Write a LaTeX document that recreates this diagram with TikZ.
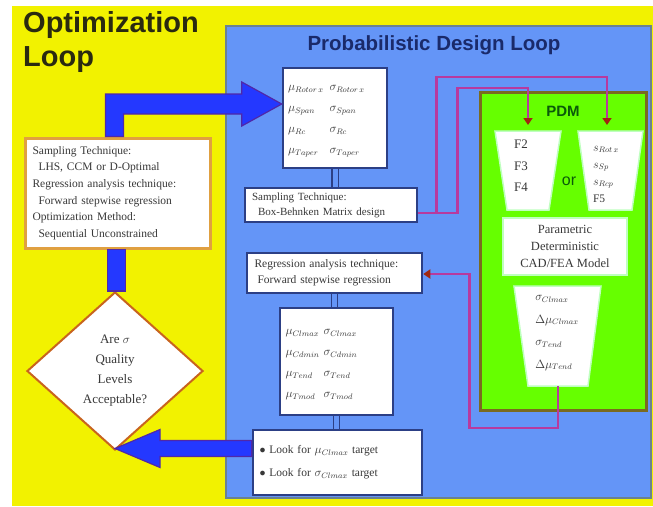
\documentclass[tikz,border=0pt]{standalone}
\usepackage{fontspec}
\setmainfont{Liberation Serif}
\newfontfamily\titlefont{Liberation Sans}
\usetikzlibrary{shapes.geometric,arrows.meta,calc}
\definecolor{ybg}{HTML}{F2F200}
\definecolor{panel}{HTML}{6495F7}
\definecolor{panelb}{HTML}{6A8290}
\definecolor{navy}{HTML}{2C3F85}
\definecolor{pdmg}{HTML}{66FF00}
\definecolor{pdmb}{HTML}{7A6A20}
\definecolor{bigblue}{HTML}{2438FF}
\definecolor{bigblueb}{HTML}{5028A8}
\definecolor{mag}{HTML}{B83A9E}
\definecolor{magtip}{HTML}{A02810}
\definecolor{orb}{HTML}{E0A040}
\definecolor{dia}{HTML}{C8641E}
\definecolor{txt}{HTML}{383838}
\definecolor{ttl}{HTML}{2A2A10}
\definecolor{ttlb}{HTML}{1A2A6A}
\definecolor{pdmt}{HTML}{0A5A0A}
\begin{document}
\begin{tikzpicture}[x=1pt,y=-1pt,
  bluebox/.style={draw=navy, line width=2.5pt, fill=white, inner sep=4pt, text=txt, align=left},
  whitebox/.style={draw=green!25, line width=1.5pt, fill=white, inner sep=3pt, text=txt, align=center},
  trap/.style={draw=green!25, line width=1.5pt, fill=white},
  dbl/.style={draw=navy, line width=1.2pt, double=panel, double distance=5pt},
  magline/.style={draw=mag, line width=2.8pt},
  magarrow/.style={magline, -{Triangle[length=7pt,width=9pt,color=magtip]}},
  bigarrow/.style={fill=bigblue, draw=bigblueb, line width=1.2pt, line join=miter},
]
\useasboundingbox (0,0) rectangle (653,506);
\fill[white] (0,0) rectangle (653,506);
\fill[ybg] (12,6) rectangle (653,506);
\draw[panelb, line width=2pt, fill=panel] (226,26) rectangle (651,498);

% titles
\node[font=\titlefont\bfseries\fontsize{29}{34}\selectfont, text=ttl, align=left, anchor=north west, inner sep=0pt] (otitle) at (23,11) {Optimization\\Loop};
\node[font=\titlefont\bfseries\fontsize{20.5}{22}\selectfont, text=ttlb, inner sep=0pt] (ptitle) at (434,45) {Probabilistic Design Loop};

% PDM green box
\draw[pdmb, line width=3pt, fill=pdmg] (480,92) rectangle (646,410);
\node[font=\titlefont\bfseries\fontsize{15}{17}\selectfont, text=pdmt] (pdm) at (563,111) {PDM};
\node[font=\titlefont\fontsize{16}{18}\selectfont, text=pdmt] (or) at (569,181) {or};

% trapezoids
\draw[trap] (495,131) -- (561,131) -- (549,210) -- (507,210) -- cycle;
\draw[trap] (578,131) -- (643,131) -- (632,210) -- (589,210) -- cycle;
\draw[trap] (514,286) -- (601,286) -- (588,386) -- (528,386) -- cycle;
\coordinate (ltop) at (528,131);
\coordinate (rtop) at (607,131);
\coordinate (bbot) at (558,386);
\node[text=txt, font=\fontsize{13}{21.5}\selectfont, align=left] (ltext) at (521,166) {F2\\F3\\F4};
\node[text=txt, font=\fontsize{11.5}{17}\selectfont, align=left] (rtext) at (606,174) {$s_{Rot\,x}$\\$s_{Sp}$\\$s_{Rcp}$\\F5};
\node[text=txt, font=\fontsize{11.5}{22.5}\selectfont, align=left] (btext) at (557,333) {$\sigma_{Clmax}$\\$\Delta\mu_{Clmax}$\\$\sigma_{Tend}$\\$\Delta\mu_{Tend}$};
\node[whitebox, minimum width=124pt, minimum height=57pt, font=\fontsize{12.5}{17}\selectfont] (param) at (565,246.5) {Parametric\\Deterministic\\CAD/FEA Model};

% blue boxes
\node[bluebox, minimum width=104pt, minimum height=100pt, text width=94pt, font=\fontsize{12}{21}\selectfont] (pbox) at (335,118)
  {\begin{tabular}{@{}l@{\hspace{6pt}}l@{}}$\mu_{Rotor\,x}$&$\sigma_{Rotor\,x}$\\$\mu_{Span}$&$\sigma_{Span}$\\$\mu_{Rc}$&$\sigma_{Rc}$\\$\mu_{Taper}$&$\sigma_{Taper}$\end{tabular}};
\node[bluebox, minimum width=172pt, minimum height=34pt, text width=158pt, font=\fontsize{11}{15}\selectfont] (sbox) at (331,205)
  {Sampling Technique:\\\hspace*{6pt}Box-Behnken Matrix design};
\node[bluebox, minimum width=175pt, minimum height=40pt, text width=160pt, font=\fontsize{11.5}{16}\selectfont] (rbox) at (334.5,273)
  {Regression analysis technique:\\\hspace*{3pt}Forward stepwise regression};
\node[bluebox, minimum width=113pt, minimum height=107pt, text width=102pt, font=\fontsize{12}{21}\selectfont] (mbox) at (336.5,361.5)
  {\begin{tabular}{@{}l@{\hspace{4pt}}l@{}}$\mu_{Clmax}$&$\sigma_{Clmax}$\\$\mu_{Cdmin}$&$\sigma_{Cdmin}$\\$\mu_{Tend}$&$\sigma_{Tend}$\\$\mu_{Tmod}$&$\sigma_{Tmod}$\end{tabular}};
\node[bluebox, minimum width=169pt, minimum height=65pt, text width=156pt, font=\fontsize{11.5}{23}\selectfont] (bbox) at (337.5,462.5)
  {$\bullet$ Look for $\mu_{Clmax}$ target\\$\bullet$ Look for $\sigma_{Clmax}$ target};

% double connectors
\draw[dbl] (pbox.south) -- (pbox.south |- sbox.north);
\draw[dbl] (rbox.south) -- (rbox.south |- mbox.north);
\draw[dbl] (mbox.south) -- (mbox.south |- bbox.north);

% left side
\node[draw=orb, line width=3pt, fill=white, minimum width=185pt, minimum height=110pt, text width=170pt, text=txt, align=left, font=\fontsize{11.5}{16.7}\selectfont, inner sep=6pt] (lbox) at (117.5,193)
  {Sampling Technique:\\\hspace*{6pt}LHS, CCM or D-Optimal\\Regression analysis technique:\\\hspace*{6pt}Forward stepwise regression\\Optimization Method:\\\hspace*{6pt}Sequential Unconstrained};
\node[diamond, draw=dia, line width=2pt, fill=white, minimum width=176pt, minimum height=158pt, inner sep=0pt, text=txt, align=center, font=\fontsize{13}{20}\selectfont] (dia) at (115,371)
  {Are $\sigma$\\Quality\\Levels\\Acceptable?};

% small connector diamond -> left box
\path let \p1=(lbox.south), \p2=(dia.north) in
  [bigarrow] (\x1-10pt,\y1) rectangle (\x1+8pt,\y2);

% big arrows
\path let \p1=($(pbox.west)+(0,-14)$), \p2=(lbox.north) in
  [bigarrow] (\x2-12pt,\y2) -- (\x2-12pt,\y1+10pt) -- (\x1-40pt,\y1+10pt) -- (\x1-40pt,\y1+22pt)
  -- (\x1,\y1) -- (\x1-40pt,\y1-22pt) -- (\x1-40pt,\y1-10pt) -- (\x2+6pt,\y1-10pt) -- (\x2+6pt,\y2) -- cycle;
\path let \p1=(dia.south), \p2=($(bbox.west)+(0,-14)$) in
  [bigarrow] (\x2,\y2+8pt) -- (\x1+45pt,\y2+8pt) -- (\x1+45pt,\y2+19pt) -- (\x1,\y2)
  -- (\x1+45pt,\y2-19pt) -- (\x1+45pt,\y2-8pt) -- (\x2,\y2-8pt) -- cycle;

% magenta connectors
\draw[magarrow] ($(sbox.east)+(0,8)$) -- ++(18,0) |- ($(rtop)+(0,-54)$) -- ($(rtop)+(0,-6)$);
\draw[magarrow] ($(sbox.east)+(0,8)$) -- ++(39,0) |- ($(ltop)+(0,-43)$) -- ($(ltop)+(0,-6)$);
\draw[magarrow] (bbot) -- ++(0,42) -| ($(rbox.east)+(46,1)$) -- ($(rbox.east)+(0,1)$);
\end{tikzpicture}
\end{document}
